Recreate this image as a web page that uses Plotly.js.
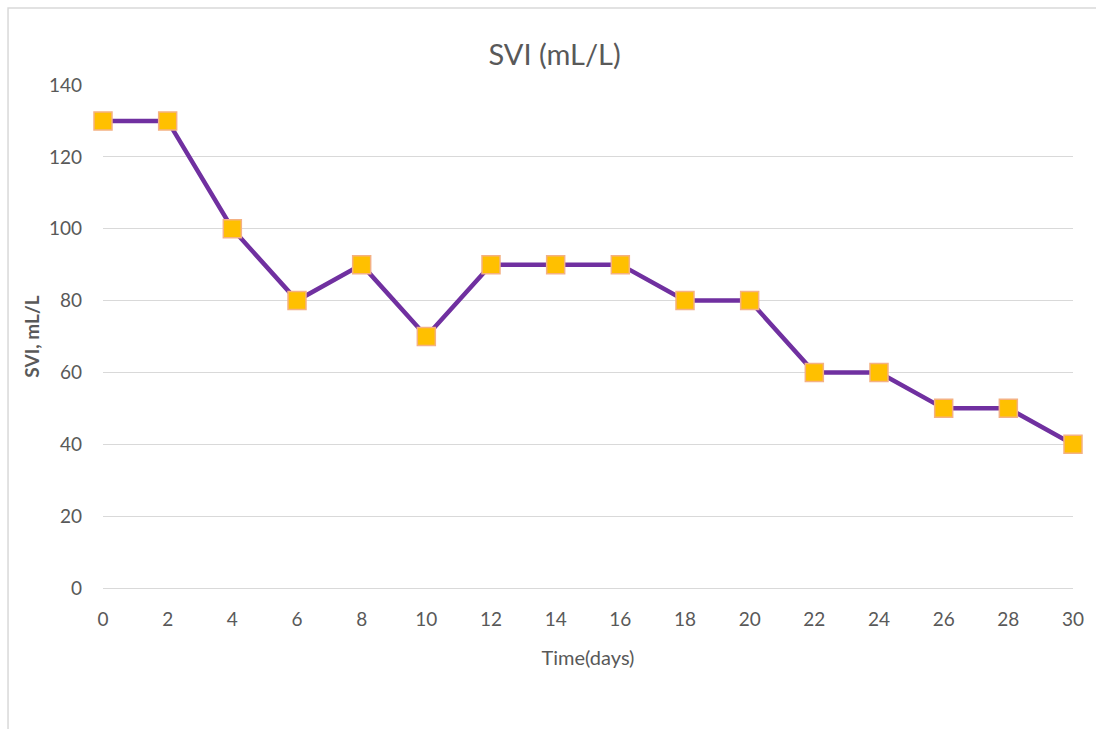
<!DOCTYPE html>
<html>
<head>
<meta charset="utf-8">
<script src="https://cdn.plot.ly/plotly-3.0.1.min.js"></script>
<style>html,body{margin:0;padding:0;background:#fff;}#chart{width:1096px;height:729px;}</style>
</head>
<body>
<div id="chart"></div>
<script>
const days = [0, 2, 4, 6, 8, 10, 12, 14, 16, 18, 20, 22, 24, 26, 28, 30];
const svi = [130, 130, 100, 80, 90, 70, 90, 90, 90, 80, 80, 60, 60, 50, 50, 40];
const xTicks = [0, 2, 4, 6, 8, 10, 12, 14, 16, 18, 20, 22, 24, 26, 28, 30];
const yTicks = [0, 20, 40, 60, 80, 100, 120, 140];

const FONT = "Lato, 'Open Sans', sans-serif";
const trace = {
  x: days, y: svi, type: 'scatter', mode: 'lines+markers',
  line: {color: '#7030A0', width: 4.5},
  marker: {symbol: 'square', size: 18, color: '#FFC000', line: {color: '#F4B183', width: 1.5}},
  cliponaxis: false, hoverinfo: 'x+y'
};
const layout = {
  width: 1096, height: 729,
  margin: {l: 103, r: 23, t: 85, b: 141},
  paper_bgcolor: '#fff', plot_bgcolor: '#fff',
  showlegend: false,
  font: {family: FONT, color: '#595959', size: 19},
  title: {text: 'SVI (mL/L)', font: {family: FONT, size: 29, color: '#595959'}, x: 0.506, xanchor: 'center', y: 0.925, yanchor: 'middle'},
  xaxis: {
    range: [0, 30], tickvals: xTicks, ticktext: xTicks.map(String),
    showgrid: false, zeroline: false, showline: true, linecolor: '#D9D9D9', linewidth: 1,
    ticks: '', ticklabelstandoff: 14,
    title: {text: 'Time(days)', font: {family: FONT, size: 20, color: '#595959'}, standoff: 22}
  },
  yaxis: {
    range: [0, 140], tickvals: yTicks, ticktext: yTicks.map(String),
    showgrid: true, gridcolor: '#D9D9D9', gridwidth: 1, zeroline: false, showline: false,
    ticks: '', ticklabelstandoff: 20,
    title: {text: '<b>SVI, mL/L</b>', font: {family: FONT, size: 19, color: '#595959'}, standoff: 4}
  },
  shapes: [{
    type: 'rect', xref: 'paper', yref: 'paper',
    x0: -0.0979, x1: 1.2, y0: -0.5, y1: 1.153,
    line: {color: '#D9D9D9', width: 1.5}, fillcolor: 'rgba(0,0,0,0)', layer: 'below'
  }]
};
Plotly.newPlot('chart', [trace], layout, {displayModeBar: false, staticPlot: true});
</script>
</body>
</html>
